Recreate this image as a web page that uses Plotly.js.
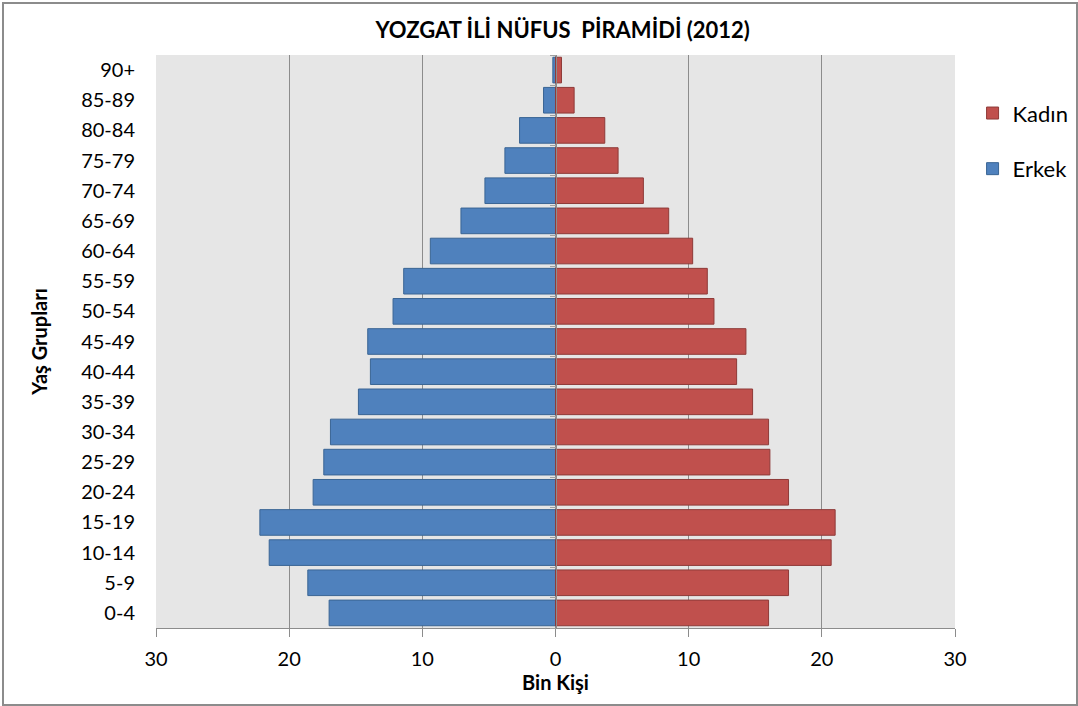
<!DOCTYPE html>
<html>
<head>
<meta charset="utf-8">
<script src="https://cdn.plot.ly/plotly-3.0.1.min.js"></script>
<style>
html,body{margin:0;padding:0;background:#fff;}
#frame{position:absolute;left:2px;top:2px;width:1072px;height:700px;border:2px solid #8c8c8c;box-sizing:content-box;}
#chart{position:absolute;left:0;top:0;width:1078px;height:706px;}
</style>
</head>
<body>
<div id="chart"></div>
<div id="frame" style="pointer-events:none"></div>
<script>
const ageGroups = ['0-4','5-9','10-14','15-19','20-24','25-29','30-34','35-39','40-44','45-49','50-54','55-59','60-64','65-69','70-74','75-79','80-84','85-89','90+'];
const erkek = [17.0,18.6,21.5,22.2,18.2,17.4,16.9,14.8,13.9,14.1,12.2,11.4,9.4,7.1,5.3,3.8,2.7,0.9,0.2];
const kadin = [16.0,17.5,20.7,21.0,17.5,16.1,16.0,14.8,13.6,14.3,11.9,11.4,10.3,8.5,6.6,4.7,3.7,1.4,0.45];
const xTickVals = [-30,-20,-10,0,10,20,30];
const xTickText = ['30','20','10','0','10','20','30'];

const FONT = "Lato, 'Open Sans', sans-serif";
const yRange = [-0.5, ageGroups.length - 0.5];

const traces = [
  {
    type:'bar', orientation:'h', name:'Erkek', legendgroup:'e', legendrank:2,
    y: ageGroups, x: erkek.map(v => -v),
    marker:{color:'#4F81BD', line:{color:'#3A6594', width:1}}
  },
  {
    type:'bar', orientation:'h', name:'Kadın', legendgroup:'k', legendrank:1,
    y: ageGroups, x: kadin,
    marker:{color:'#C0504D', line:{color:'#8E3A38', width:1}}
  },
  {
    type:'scatter', mode:'markers', y: ageGroups, x: ageGroups.map(() => 0),
    yaxis:'y2', marker:{opacity:0}, showlegend:false, hoverinfo:'skip'
  }
];

const layout = {
  width:1078, height:706,
  paper_bgcolor:'#ffffff', plot_bgcolor:'#E6E6E6',
  margin:{l:156, r:123, t:55, b:78, autoexpand:false},
  barmode:'relative', bargap:0.15,
  font:{family:FONT, size:20, color:'#000'},
  title:{text:'<b>YOZGAT İLİ NÜFUS  PİRAMİDİ (2012)</b>', x:0.509, xref:'paper', xanchor:'center', y:0.9575, yref:'container', yanchor:'middle', font:{family:FONT, size:22, color:'#000'}},
  xaxis:{
    range:[-30,30], tickvals:xTickVals, ticktext:xTickText,
    showgrid:true, gridcolor:'#8c8c8c', gridwidth:1,
    zeroline:true, zerolinecolor:'#8c8c8c', zerolinewidth:1,
    showline:true, linecolor:'#8c8c8c', linewidth:1, mirror:false,
    ticks:'outside', ticklen:8, tickcolor:'#8c8c8c',
    ticklabelstandoff:5,
    tickfont:{family:FONT, size:20, color:'#000'},
    title:{text:'<b>Bin Kişi</b>', standoff:6, font:{family:FONT, size:20, color:'#000'}},
    fixedrange:true
  },
  yaxis:{
    type:'category', categoryorder:'array', categoryarray:ageGroups,
    range:yRange, autorange:false,
    showgrid:false, zeroline:false, showline:false,
    ticks:'', ticklabelstandoff:20,
    tickfont:{family:FONT, size:20, color:'#000'},
    title:{text:'<b>Yaş Grupları</b>', standoff:28, font:{family:FONT, size:20, color:'#000'}},
    fixedrange:true
  },
  yaxis2:{
    type:'category', categoryorder:'array', categoryarray:ageGroups,
    range:yRange, autorange:false,
    overlaying:'y', anchor:'free', position:0.5, side:'left',
    showgrid:false, zeroline:false, showline:true, linecolor:'#8c8c8c', linewidth:1,
    ticks:'outside', ticklen:6, tickcolor:'#a0a0a0', tickson:'boundaries',
    showticklabels:false, fixedrange:true
  },
  legend:{
    x:1.022, xanchor:'left', y:0.935, yanchor:'top',
    traceorder:'grouped', tracegroupgap:24,
    font:{family:FONT, size:22, color:'#000'},
    bgcolor:'rgba(0,0,0,0)', itemwidth:30
  },
  showlegend:true
};

Plotly.newPlot('chart', traces, layout, {displayModeBar:false, staticPlot:true});
</script>
</body>
</html>
